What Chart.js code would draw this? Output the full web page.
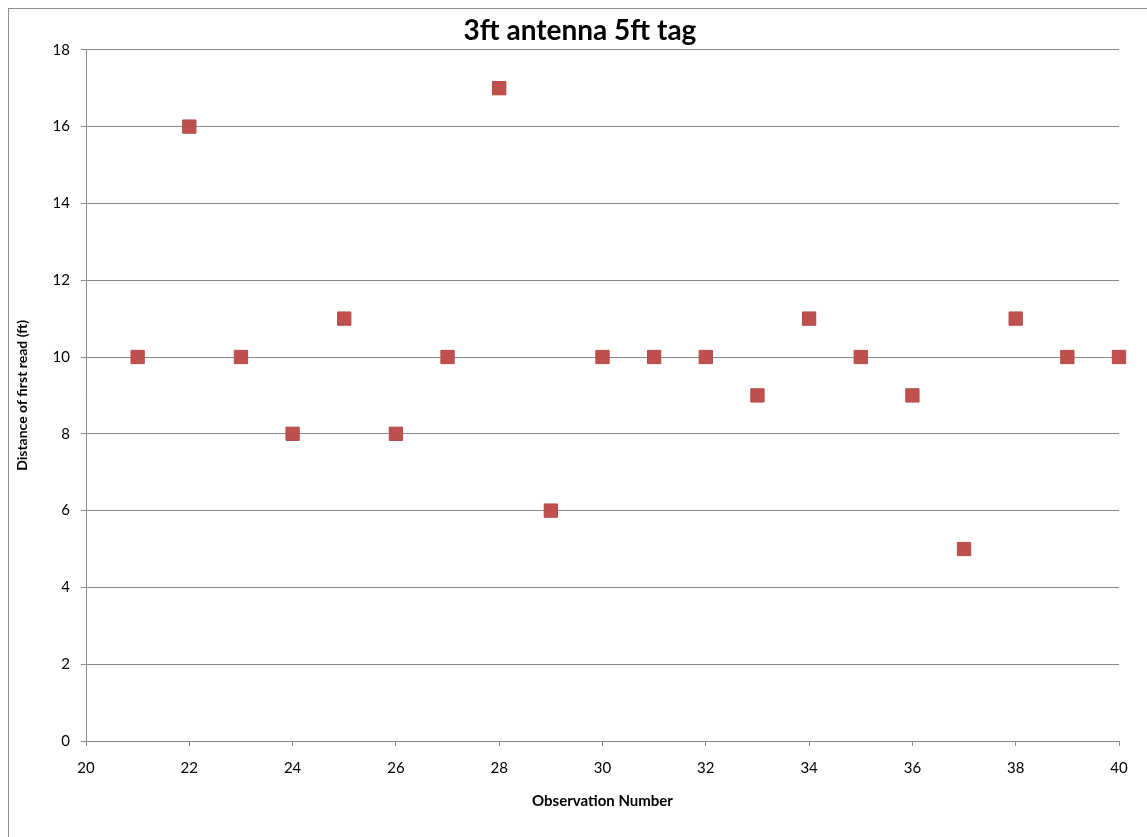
<!DOCTYPE html>
<html>
<head>
<meta charset="utf-8">
<script src="https://cdn.jsdelivr.net/npm/chart.js@4"></script>
<style>
  html, body { margin: 0; padding: 0; background: #fff; }
  #wrap { position: relative; width: 1147px; height: 837px; overflow: hidden; }
  #frame { position: absolute; left: 8px; top: 8px; width: 1160px; height: 860px; border: 1px solid #8c8c8c; box-sizing: border-box; }
  canvas { position: absolute; left: 0; top: 0; }
</style>
</head>
<body>
<div id="wrap">
  <div id="frame"></div>
  <canvas id="c" width="1147" height="837"></canvas>
</div>
<script>
const titleText = "3ft antenna 5ft tag";
const xTitle = "Observation Number";
const yTitle = "Distance of first read (ft)";
const observations = [21,22,23,24,25,26,27,28,29,30,31,32,33,34,35,36,37,38,39,40];
const distances = [10,16,10,8,11,8,10,17,6,10,10,10,9,11,10,9,5,11,10,10];

const FONT = "Lato, 'Open Sans', 'Liberation Sans', sans-serif";
const GRID = "#8a8a8a";

const points = observations.map((x, i) => ({ x: x, y: distances[i] }));

new Chart(document.getElementById('c'), {
  type: 'scatter',
  data: {
    datasets: [{
      label: 'Distance',
      data: points,
      pointStyle: 'rect',
      pointRadius: 9.4,
      pointHoverRadius: 9.4,
      backgroundColor: '#C0504D',
      borderColor: '#B64A47',
      borderWidth: 1,
      clip: false
    }]
  },
  options: {
    responsive: false,
    animation: false,
    events: [],
    layout: { padding: { left: 41, right: 28, top: 0, bottom: 26 } },
    plugins: {
      legend: { display: false },
      tooltip: { enabled: false },
      title: {
        display: true,
        text: titleText,
        color: '#000',
        font: { family: FONT, size: 28, weight: 'bold', lineHeight: 1.1 },
        padding: { top: 16, bottom: 3 }
      }
    },
    scales: {
      x: {
        type: 'linear',
        min: 20, max: 40,
        ticks: { stepSize: 2, color: '#000', font: { family: FONT, size: 15 }, padding: 13, maxRotation: 0 },
        grid: { display: true, drawOnChartArea: false, drawTicks: true, tickLength: 5, color: GRID },
        border: { display: true, color: GRID, width: 1 },
        title: { display: true, text: xTitle, color: '#000', font: { family: FONT, size: 15, weight: 'bold' }, padding: { top: 0, bottom: 1 } },
        afterFit: s => { s.height = 70; }
      },
      y: {
        type: 'linear',
        min: 0, max: 18,
        ticks: { stepSize: 2, color: '#000', font: { family: FONT, size: 15 }, padding: 11 },
        grid: { display: true, drawOnChartArea: true, drawTicks: true, tickLength: 5, color: GRID },
        border: { display: true, color: GRID, width: 1 },
        title: { display: true, text: yTitle, color: '#000', font: { family: FONT, size: 14, weight: 'bold' }, padding: { top: -27, bottom: 0 } },
        afterFit: s => { s.width = 45; }
      }
    }
  }
});
</script>
</body>
</html>
